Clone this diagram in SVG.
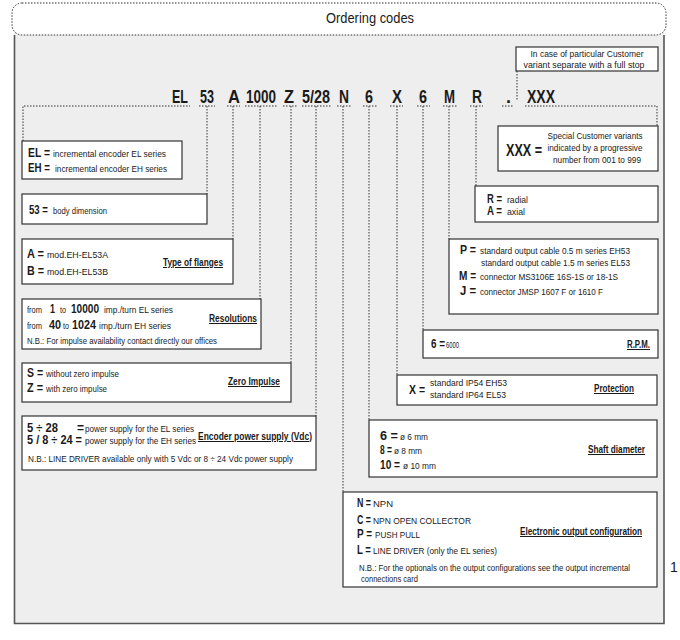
<svg xmlns="http://www.w3.org/2000/svg" width="680" height="640" viewBox="0 0 680 640">
<style>
text{font-family:"Liberation Sans",Arial,sans-serif;fill:#1a1a1a}
.code{font-size:18px;font-weight:bold}
.b{font-size:12px;font-weight:bold}
.r{font-size:9px}
.h{font-size:10px;font-weight:bold;text-decoration:underline}
.box{fill:#fff;stroke:#333;stroke-width:1.2}
.dot{fill:none;stroke:#333;stroke-width:1;stroke-dasharray:1.5 1.5}
</style>
<rect x="0" y="0" width="680" height="640" fill="#fff"/>
<g id="frame">
<rect x="14" y="30" width="650" height="594" fill="#eeeeee"/>
<path d="M14.5,35 V623.5 H664 V35" fill="none" stroke="#555" stroke-width="1.6"/>
<rect x="12" y="3" width="654" height="32" rx="10" ry="10" fill="#fff" stroke="#333" stroke-width="1" stroke-dasharray="1.5 1.5"/>
<text x="370" y="23" font-size="14" text-anchor="middle" textLength="88" lengthAdjust="spacingAndGlyphs">Ordering codes</text>
<text x="670" y="572" font-size="14">1</text>
</g>
<g id="note">
<rect class="box" x="516" y="47" width="142" height="24"/>
<text class="r" x="587" y="56.5" text-anchor="middle" textLength="113" lengthAdjust="spacingAndGlyphs">In  case of  particular Customer</text>
<text class="r" x="584" y="67.5" text-anchor="middle" textLength="121" lengthAdjust="spacingAndGlyphs">variant  separate with a full stop</text>
</g>
<g id="code">
<text class="code" x="172" y="103" textLength="16" lengthAdjust="spacingAndGlyphs">EL</text>
<text class="code" x="200" y="103" textLength="14" lengthAdjust="spacingAndGlyphs">53</text>
<text class="code" x="228" y="103" textLength="12" lengthAdjust="spacingAndGlyphs">A</text>
<text class="code" x="246" y="103" textLength="30" lengthAdjust="spacingAndGlyphs">1000</text>
<text class="code" x="284" y="103" textLength="10" lengthAdjust="spacingAndGlyphs">Z</text>
<text class="code" x="302" y="103" textLength="28" lengthAdjust="spacingAndGlyphs">5/28</text>
<text class="code" x="339" y="103" textLength="10" lengthAdjust="spacingAndGlyphs">N</text>
<text class="code" x="365" y="103" textLength="8" lengthAdjust="spacingAndGlyphs">6</text>
<text class="code" x="392" y="103" textLength="10" lengthAdjust="spacingAndGlyphs">X</text>
<text class="code" x="419" y="103" textLength="8" lengthAdjust="spacingAndGlyphs">6</text>
<text class="code" x="444" y="103" textLength="11" lengthAdjust="spacingAndGlyphs">M</text>
<text class="code" x="472" y="103" textLength="10" lengthAdjust="spacingAndGlyphs">R</text>
<text class="code" x="506" y="103" textLength="5" lengthAdjust="spacingAndGlyphs">.</text>
<text class="code" x="527" y="103" textLength="28" lengthAdjust="spacingAndGlyphs">XXX</text>
</g>
<g id="connectors">
<path class="dot" d="M23,141 V106 H190"/>
<path class="dot" d="M199,106 H215 M207,106 V194"/>
<path class="dot" d="M227,106 H240 M233,106 V239"/>
<path class="dot" d="M245,106 H277 M260,106 V299"/>
<path class="dot" d="M283,106 H297 M291,106 V363"/>
<path class="dot" d="M302,106 H331 M316,106 V416"/>
<path class="dot" d="M337,106 H351 M343,106 V492"/>
<path class="dot" d="M363,106 H377 M369,106 V420"/>
<path class="dot" d="M390,106 H403 M397,106 V375"/>
<path class="dot" d="M417,106 H430 M423,106 V330"/>
<path class="dot" d="M443,106 H457 M449,106 V239"/>
<path class="dot" d="M470,106 H483 M476,106 V186"/>
<path class="dot" d="M502,106 H514 M517,71 V100"/>
<path class="dot" d="M525,106 H657 V126"/>
</g>
<g id="el">
<rect class="box" x="22" y="141" width="160" height="38"/>
<text class="b" x="28" y="157" textLength="22" lengthAdjust="spacingAndGlyphs">EL =</text>
<text class="r" x="53" y="157" textLength="113" lengthAdjust="spacingAndGlyphs">incremental  encoder EL series</text>
<text class="b" x="28" y="172" textLength="22" lengthAdjust="spacingAndGlyphs">EH =</text>
<text class="r" x="55" y="172" textLength="112" lengthAdjust="spacingAndGlyphs">incremental encoder EH series</text>
</g>
<g id="dim">
<rect class="box" x="22" y="194" width="185" height="30"/>
<text class="b" x="29" y="214" textLength="19" lengthAdjust="spacingAndGlyphs">53 =</text>
<text class="r" x="53" y="214" textLength="54" lengthAdjust="spacingAndGlyphs">body dimension</text>
</g>
<g id="flanges">
<rect class="box" x="22" y="239" width="211" height="45"/>
<text class="b" x="27" y="258" textLength="17" lengthAdjust="spacingAndGlyphs">A =</text>
<text class="r" x="47" y="258" textLength="61" lengthAdjust="spacingAndGlyphs">mod.EH-EL53A</text>
<text class="b" x="27" y="275" textLength="17" lengthAdjust="spacingAndGlyphs">B =</text>
<text class="r" x="47" y="275" textLength="61" lengthAdjust="spacingAndGlyphs">mod.EH-EL53B</text>
<text class="h" x="163" y="266" textLength="60" lengthAdjust="spacingAndGlyphs">Type of flanges</text>
</g>
<g id="resolutions">
<rect class="box" x="22" y="299" width="239" height="50"/>
<text class="r" x="27" y="313" textLength="15" lengthAdjust="spacingAndGlyphs">from</text>
<text class="b" x="50" y="313" textLength="5" lengthAdjust="spacingAndGlyphs">1</text>
<text class="r" x="60" y="313" textLength="6" lengthAdjust="spacingAndGlyphs">to</text>
<text class="b" x="71" y="313" textLength="28" lengthAdjust="spacingAndGlyphs">10000</text>
<text class="r" x="104" y="313" textLength="69" lengthAdjust="spacingAndGlyphs">imp./turn EL series</text>
<text class="r" x="27" y="329" textLength="15" lengthAdjust="spacingAndGlyphs">from</text>
<text class="b" x="49" y="329" textLength="12" lengthAdjust="spacingAndGlyphs">40</text>
<text class="r" x="63" y="329" textLength="6" lengthAdjust="spacingAndGlyphs">to</text>
<text class="b" x="72" y="329" textLength="24" lengthAdjust="spacingAndGlyphs">1024</text>
<text class="r" x="99" y="329" textLength="72" lengthAdjust="spacingAndGlyphs">imp./turn EH  series</text>
<text class="r" x="27" y="344" font-size="8.5" textLength="190" lengthAdjust="spacingAndGlyphs">N.B.: For impulse availability contact directly our offices</text>
<text class="h" x="209" y="322" textLength="48" lengthAdjust="spacingAndGlyphs">Resolutions</text>
</g>
<g id="zero">
<rect class="box" x="22" y="363" width="269" height="39"/>
<text class="b" x="27" y="377" textLength="16" lengthAdjust="spacingAndGlyphs">S =</text>
<text class="r" x="46" y="377" textLength="73" lengthAdjust="spacingAndGlyphs">without zero impulse</text>
<text class="b" x="27" y="392" textLength="16" lengthAdjust="spacingAndGlyphs">Z =</text>
<text class="r" x="46" y="392" textLength="61" lengthAdjust="spacingAndGlyphs">with zero impulse</text>
<text class="h" x="228" y="385" textLength="52" lengthAdjust="spacingAndGlyphs">Zero Impulse</text>
</g>
<g id="power">
<rect class="box" x="22" y="416" width="294" height="54"/>
<text class="b" x="27" y="432" textLength="31" lengthAdjust="spacingAndGlyphs">5 ÷ 28</text>
<text class="b" x="77" y="432">=</text>
<text class="r" x="85" y="432" textLength="109" lengthAdjust="spacingAndGlyphs">power supply for the EL series</text>
<text class="b" x="27" y="444" textLength="55" lengthAdjust="spacingAndGlyphs">5 / 8 ÷ 24 =</text>
<text class="r" x="85" y="444" textLength="111" lengthAdjust="spacingAndGlyphs">power supply for the EH series</text>
<text class="h" x="198" y="440" textLength="114" lengthAdjust="spacingAndGlyphs">Encoder power supply (Vdc)</text>
<text class="r" x="28" y="462" textLength="265" lengthAdjust="spacingAndGlyphs">N.B.: LINE DRIVER available only with 5 Vdc or 8 ÷ 24 Vdc power supply</text>
</g>
<g id="xxx">
<rect class="box" x="498" y="126" width="160" height="45"/>
<text x="506" y="156" font-size="16" font-weight="bold" textLength="36" lengthAdjust="spacingAndGlyphs">XXX =</text>
<text class="r" x="595" y="139" text-anchor="middle" textLength="95" lengthAdjust="spacingAndGlyphs">Special Customer variants</text>
<text class="r" x="595" y="151" text-anchor="middle" textLength="95" lengthAdjust="spacingAndGlyphs">indicated by a progressive</text>
<text class="r" x="597" y="163" text-anchor="middle" textLength="88" lengthAdjust="spacingAndGlyphs">number from 001 to 999</text>
</g>
<g id="exit">
<rect class="box" x="475" y="186" width="183" height="36"/>
<text class="b" x="487" y="203" textLength="15" lengthAdjust="spacingAndGlyphs">R =</text>
<text class="r" x="507" y="203" textLength="21" lengthAdjust="spacingAndGlyphs">radial</text>
<text class="b" x="487" y="215" textLength="15" lengthAdjust="spacingAndGlyphs">A =</text>
<text class="r" x="507" y="215" textLength="18" lengthAdjust="spacingAndGlyphs">axial</text>
</g>
<g id="connection">
<rect class="box" x="449" y="239" width="209" height="75"/>
<text class="b" x="460" y="254" font-size="13" textLength="16" lengthAdjust="spacingAndGlyphs">P =</text>
<text class="r" x="480" y="254" textLength="150" lengthAdjust="spacingAndGlyphs">standard output cable  0.5 m series EH53</text>
<text class="r" x="481" y="266" textLength="149" lengthAdjust="spacingAndGlyphs">standard output cable 1.5 m series  EL53</text>
<text class="b" x="459" y="280" font-size="13" textLength="17" lengthAdjust="spacingAndGlyphs">M =</text>
<text class="r" x="480" y="280" textLength="138" lengthAdjust="spacingAndGlyphs">connector MS3106E 16S-1S or 18-1S</text>
<text class="b" x="460" y="295" font-size="13" textLength="16" lengthAdjust="spacingAndGlyphs">J =</text>
<text class="r" x="480" y="295" textLength="123" lengthAdjust="spacingAndGlyphs">connector JMSP 1607 F or 1610 F</text>
</g>
<g id="rpm">
<rect class="box" x="423" y="330" width="235" height="28"/>
<text class="b" x="431" y="348" textLength="14" lengthAdjust="spacingAndGlyphs">6 =</text>
<text class="r" x="446" y="348" font-size="8.5" textLength="13" lengthAdjust="spacingAndGlyphs">6000</text>
<text class="h" x="627" y="348" textLength="23" lengthAdjust="spacingAndGlyphs">R.P.M.</text>
</g>
<g id="protection">
<rect class="box" x="397" y="375" width="260" height="30"/>
<text class="b" x="409" y="394" font-size="13" textLength="16" lengthAdjust="spacingAndGlyphs">X =</text>
<text class="r" x="430" y="386" textLength="77" lengthAdjust="spacingAndGlyphs">standard IP54   EH53</text>
<text class="r" x="430" y="398" textLength="76" lengthAdjust="spacingAndGlyphs">standard IP64   EL53</text>
<text class="h" x="594" y="392" textLength="40" lengthAdjust="spacingAndGlyphs">Protection</text>
</g>
<g id="shaft">
<rect class="box" x="369" y="420" width="288" height="57"/>
<text class="b" x="380" y="440" font-size="13" textLength="18" lengthAdjust="spacingAndGlyphs">6  =</text>
<text class="r" x="400" y="440" textLength="28" lengthAdjust="spacingAndGlyphs">ø 6 mm</text>
<text class="b" x="380" y="454" font-size="13" textLength="12" lengthAdjust="spacingAndGlyphs">8 =</text>
<text class="r" x="394" y="454" textLength="28" lengthAdjust="spacingAndGlyphs">ø 8 mm</text>
<text class="b" x="380" y="469" font-size="13" textLength="20" lengthAdjust="spacingAndGlyphs">10 =</text>
<text class="r" x="403" y="469" textLength="33" lengthAdjust="spacingAndGlyphs">ø 10 mm</text>
<text class="h" x="588" y="453" textLength="57" lengthAdjust="spacingAndGlyphs">Shaft diameter</text>
</g>
<g id="output">
<rect class="box" x="343" y="492" width="314" height="95"/>
<text class="b" x="357" y="507" font-size="13" textLength="14" lengthAdjust="spacingAndGlyphs">N =</text>
<text class="r" x="373" y="507" textLength="20" lengthAdjust="spacingAndGlyphs">NPN</text>
<text class="b" x="357" y="524" font-size="13" textLength="14" lengthAdjust="spacingAndGlyphs">C =</text>
<text class="r" x="373" y="524" textLength="98" lengthAdjust="spacingAndGlyphs">NPN OPEN COLLECTOR</text>
<text class="b" x="357" y="538" font-size="13" textLength="15" lengthAdjust="spacingAndGlyphs">P =</text>
<text class="r" x="375" y="538" textLength="45" lengthAdjust="spacingAndGlyphs">PUSH PULL</text>
<text class="b" x="357" y="554" font-size="13" textLength="14" lengthAdjust="spacingAndGlyphs">L =</text>
<text class="r" x="373" y="554" textLength="124" lengthAdjust="spacingAndGlyphs">LINE DRIVER (only the EL series)</text>
<text class="r" x="359" y="571" textLength="271" lengthAdjust="spacingAndGlyphs">N.B.: For the optionals on the output configurations see the output incremental</text>
<text class="r" x="361" y="582" textLength="57" lengthAdjust="spacingAndGlyphs">connections card</text>
<text class="h" x="520" y="535" textLength="122" lengthAdjust="spacingAndGlyphs">Electronic output configuration</text>
</g>
</svg>
